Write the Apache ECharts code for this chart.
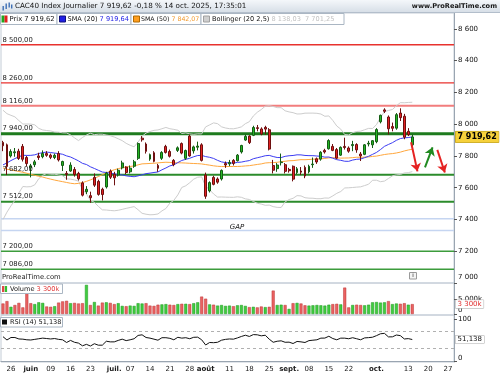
<!DOCTYPE html>
<html>
<head>
<meta charset="utf-8">
<title>CAC40 Index Journalier</title>
<script src="https://cdn.jsdelivr.net/npm/echarts@6.0.0/dist/echarts.min.js"></script>
<style>
html,body{margin:0;padding:0;background:#fff;}
#chart{width:500px;height:375px;}
</style>
</head>
<body>
<div id="chart"></div>
<script>
// ================= DATA =================
const dates = ['05-22','05-23','05-26','05-27','05-28','05-29','05-30',
'06-02','06-03','06-04','06-05','06-06','06-09','06-10','06-11','06-12','06-13',
'06-16','06-17','06-18','06-19','06-20','06-23','06-24','06-25','06-26','06-27',
'06-30','07-01','07-02','07-03','07-04','07-07','07-08','07-09','07-10','07-11',
'07-14','07-15','07-16','07-17','07-18','07-21','07-22','07-23','07-24','07-25',
'07-28','07-29','07-30','07-31','08-01','08-04','08-05','08-06','08-07','08-08',
'08-11','08-12','08-13','08-14','08-15','08-18','08-19','08-20','08-21','08-22',
'08-25','08-26','08-27','08-28','08-29','09-01','09-02','09-03','09-04','09-05',
'09-08','09-09','09-10','09-11','09-12','09-15','09-16','09-17','09-18','09-19',
'09-22','09-23','09-24','09-25','09-26','09-29','09-30','10-01','10-02','10-03',
'10-06','10-07','10-08','10-09','10-10','10-13','10-14'];
const futureDates = ['10-15','10-16','10-17','10-20','10-21','10-22','10-23','10-24','10-27','10-28'];

const openP = [7885,7870,7800,7820,7830,7860,7790,7725,7745,7800,
7795,7815,7805,7790,7815,7740,7690,7705,7715,7690,
7630,7575,7550,7665,7640,7590,7605,7705,7685,7680,
7725,7730,7700,7735,7785,7912,7875,7780,7820,7740,
7785,7860,7828,7772,7835,7878,7785,7925,7832,7855,
7870,7680,7580,7665,7655,7655,7752,7750,7772,7770,
7825,7900,7925,7930,7978,7970,7980,7965,7740,7720,
7758,7745,7715,7735,7695,7705,7728,7700,7745,7782,
7780,7835,7845,7860,7840,7805,7860,7850,7865,7872,
7812,7810,7875,7870,7890,8015,8090,8045,7985,7975,
8070,8050,7955,7870];
const highP = [7895,7878,7842,7850,7845,7875,7800,7750,7775,7820,
7835,7830,7815,7815,7830,7770,7705,7760,7730,7700,
7640,7610,7575,7690,7650,7600,7700,7715,7700,7720,
7770,7735,7740,7775,7885,7925,7885,7815,7830,7750,
7830,7870,7840,7780,7860,7885,7840,7935,7865,7890,
7880,7695,7640,7675,7665,7715,7765,7775,7780,7812,
7870,7935,7930,7990,7995,7980,7990,7975,7775,7755,
7815,7755,7725,7740,7730,7730,7740,7745,7790,7790,
7830,7845,7905,7875,7850,7860,7915,7860,7895,7880,
7825,7875,7895,7900,7975,8060,8100,8055,8010,8070,
8100,8065,7975,7935];
const lowP = [7830,7680,7790,7795,7775,7765,7735,7665,7730,7775,
7785,7795,7780,7780,7765,7705,7650,7700,7670,7645,
7545,7560,7505,7605,7550,7520,7595,7655,7615,7670,
7715,7685,7690,7725,7775,7890,7815,7770,7760,7700,
7775,7815,7790,7735,7825,7810,7775,7795,7815,7835,
7765,7530,7570,7615,7625,7645,7725,7735,7740,7765,
7815,7895,7875,7925,7955,7930,7935,7835,7690,7700,
7740,7690,7695,7640,7685,7680,7660,7690,7725,7750,
7770,7815,7840,7830,7780,7800,7840,7820,7830,7820,
7768,7805,7860,7850,7880,8005,8070,7935,7955,7965,
8020,7905,7925,7840];
const closeP = [7864,7734,7828,7826,7784,7779,7752,7738,7763,7790,
7815,7804,7791,7804,7775,7765,7684,7742,7683,7656,
7553,7590,7537,7616,7558,7557,7692,7666,7662,7710,
7756,7696,7723,7763,7878,7902,7829,7808,7766,7722,
7822,7822,7798,7745,7851,7818,7834,7800,7857,7862,
7772,7546,7632,7621,7635,7709,7743,7759,7753,7805,
7866,7923,7884,7979,7973,7938,7969,7843,7710,7743,
7762,7703,7707,7654,7719,7698,7674,7735,7749,7762,
7823,7825,7897,7835,7786,7854,7853,7830,7872,7838,
7800,7870,7880,7896,7966,8056,8081,7971,7974,8060,
8041,7918,7934,7919.62];
const prevClose = 7910;

const sma20 = [7743.6,7756.2,7770.8,7783.4,7794.9,7804.2,7803.3,7803.7,7807.0,7815.2,
7821.3,7824.3,7821.4,7817.9,7814.9,7810.5,7800.4,7793.3,7781.6,7768.9,
7753.3,7746.1,7731.6,7721.1,7709.8,7698.7,7695.7,7692.1,7687.0,7683.0,
7680.1,7674.7,7671.3,7669.2,7674.4,7681.2,7688.5,7691.8,7695.9,7699.2,
7712.7,7724.3,7737.3,7743.8,7758.4,7771.5,7778.6,7785.3,7795.0,7802.6,
7803.4,7795.9,7791.4,7784.3,7772.1,7762.5,7758.2,7755.7,7755.1,7759.2,
7761.4,7766.5,7770.8,7782.5,7788.6,7794.6,7801.3,7803.5,7796.1,7790.2,
7789.7,7797.5,7801.3,7802.9,7807.1,7806.6,7803.1,7801.9,7801.7,7799.6,
7797.4,7792.5,7793.2,7786.0,7776.6,7772.4,7766.6,7766.0,7774.1,7778.8,
7780.7,7789.1,7797.7,7809.8,7822.2,7840.1,7860.4,7872.2,7883.5,7898.4,
7909.3,7913.9,7915.8,7919.6];
const sma50 = [7725,7716,7712,7707,7702,7697,7691,7684,7678,7672,
7667,7660,7654,7648,7643,7638,7633,7628,7625,7627,
7632,7640,7649,7660,7670,7682,7694,7704,7713,7720,
7725.6,7729.9,7733.6,7737.4,7743.9,7750.1,7751.3,7752.8,7754.2,7756.1,
7758.7,7760.3,7759.2,7756.7,7757.0,7756.3,7755.2,7753.6,7752.4,7751.4,
7749.6,7745.8,7741.9,7737.8,7734.8,7733.4,7733.2,7733.6,7733.4,7733.7,
7734.8,7737.1,7739.0,7742.5,7746.5,7749.9,7755.6,7757.6,7758.2,7759.9,
7764.1,7766.4,7769.8,7770.5,7773.7,7776.6,7776.2,7777.6,7779.3,7780.4,
7781.7,7784.3,7787.8,7789.2,7787.4,7786.4,7786.9,7787.3,7789.4,7791.8,
7791.3,7792.3,7793.9,7796.9,7799.2,7804.0,7808.9,7812.4,7814.7,7818.7,
7824.0,7831.5,7837.5,7842.1];
const bollUpper = [8087.7,8066.2,8055.8,8046.1,8022.6,8000.8,8001.1,8000.6,7995.8,7973.6,
7963.6,7959.9,7957.3,7950.8,7949.3,7945.6,7944.7,7932.6,7914.1,7896.7,
7916.2,7931.7,7943.0,7934.1,7937.0,7936.7,7931.7,7927.4,7919.2,7908.1,
7896.5,7879.4,7867.1,7857.5,7887.5,7923.6,7943.9,7953.9,7961.1,7963.8,
7971.3,7979.4,7971.3,7967.2,7961.9,7941.1,7945.0,7938.9,7936.0,7939.2,
7938.6,7983.0,7995.4,8008.1,8003.2,7983.4,7975.9,7971.6,7970.9,7975.8,
7983.2,8003.2,8015.6,8051.6,8075.1,8092.2,8113.3,8116.2,8111.3,8104.2,
8103.9,8084.2,8077.1,8072.5,8064.0,8064.8,8069.3,8069.6,8069.7,8068.4,
8063.9,8049.8,8051.9,8023.5,7988.6,7968.7,7934.8,7932.4,7946.8,7954.0,
7955.9,7964.8,7973.5,7972.7,7997.2,8042.3,8079.1,8086.4,8092.3,8115.9,
8135.5,8134.9,8136.8,8138.0];
const bollLower = [7399.4,7446.1,7485.7,7520.7,7567.1,7607.5,7605.4,7606.8,7618.2,7656.8,
7678.9,7688.7,7685.4,7685.0,7680.4,7675.3,7656.0,7653.9,7649.0,7641.1,
7590.4,7560.5,7520.2,7508.0,7482.5,7460.6,7459.5,7456.7,7454.8,7457.9,
7463.6,7469.9,7475.4,7480.9,7461.2,7438.8,7433.0,7429.5,7430.7,7434.6,
7454.0,7469.1,7503.3,7520.3,7554.9,7601.8,7612.1,7631.6,7654.0,7666.0,
7668.2,7608.8,7587.3,7560.4,7541.0,7541.5,7540.4,7539.8,7539.2,7542.6,
7539.6,7529.7,7525.9,7513.3,7502.0,7496.9,7489.3,7490.7,7480.9,7476.1,
7475.4,7510.8,7525.4,7533.3,7550.2,7548.3,7536.9,7534.2,7533.7,7530.7,
7530.9,7535.2,7534.4,7548.5,7564.6,7576.1,7598.4,7599.5,7601.3,7603.6,
7605.5,7613.3,7621.9,7646.9,7647.1,7637.8,7641.7,7658.0,7674.7,7680.8,
7683.0,7692.9,7694.7,7701.3];

const volumeK = [3500,4300,2400,3000,3700,2200,6900,3600,3300,3900,
3700,2500,2400,2600,3800,4200,4400,3600,3700,3500,
3600,9700,3000,4000,2800,3800,3900,3700,3300,3600,
2700,2600,2800,2700,3600,3500,3600,2800,2700,3100,
3200,3300,3100,3000,3300,3400,3400,3300,3600,3900,
5800,5100,3200,3100,2800,3000,2700,2800,2600,2900,
3000,2700,2300,2400,2200,2500,2300,2400,7800,3000,
3100,3000,1700,3600,3700,3500,2900,2800,2900,3000,
2900,2800,3100,3300,3400,3200,8800,2200,3000,3100,
3000,2900,3100,3900,4000,3800,3900,4300,3300,3500,
3400,3600,3100,3300];
const rsi14 = [58,50,56,56,52.5,52,50.5,50,51.5,53,
54.5,53.5,52.5,53.5,51.5,50.5,44,49,44.5,42.5,
36,39.5,35.5,41,37.5,37.5,47,45.5,45.5,49,
52,48.5,50.5,53,61,62.5,56,54.5,52,49.5,
55.5,55.5,54,50.5,56.5,54.5,55.5,53,56.5,56.8,
50.5,38,44,43.5,44.5,49.5,51.5,52.5,52,55,
58.5,61.5,58.5,63,62.5,60,61.5,52,44.5,47,
48,44.5,44.8,41.5,46.5,45.5,44,48.5,49.5,50.5,
54.5,54.6,59,53.5,50.5,54.5,54.4,53,55.5,53,
50.5,55,55.7,56.7,60.5,65,66,57.5,57.6,62,
60.5,52.5,53.3,51.138];

const priceTicks = [7000,7200,7400,7600,7800,8000,8200,8400,8600];
const volumeTicks = [0,5000];
const rsiTicks = [0,100];
const rsiBands = [70,30];
const levelValues = [8500,8260,8116,7940,7682,7512,7200,7086];
const gapValues = [7405,7330];
const tickLabels = {'05-26':'26','06-02':'juin','06-09':'09','06-16':'16','06-23':'23',
'07-01':'juil.','07-07':'07','07-14':'14','07-21':'21','07-28':'28','08-01':'août',
'08-11':'11','08-18':'18','08-25':'25','09-01':'sept.','09-08':'08','09-15':'15',
'09-22':'22','10-01':'oct.','10-13':'13','10-20':'20','10-27':'27'};
const monthLabels = ['juin','juil.','août','sept.','oct.'];
const lastClose = 7919.62, changePct = -0.18;
const sma20Last = 7919.64, sma50Last = 7842.07, bollUpLast = 8138.03, bollLowLast = 7701.25;
const volLastK = 3300, rsiLast = 51.138;

// ================= HELPERS =================
function fr(v, d) {
  const neg = v < 0;
  const s = Math.abs(v).toFixed(d);
  let parts = s.split('.');
  let a = parts[0].replace(/\B(?=(\d{3})+(?!\d))/g, ' ');
  return (neg ? '-' : '') + a + (parts.length > 1 ? ',' + parts[1] : '');
}
const FF = 'DejaVu Sans';
const allDates = dates.concat(futureDates);
const nSlots = allDates.length;
const xMin = -0.5, xMax = nSlots - 0.5;
const candleData = dates.map((d, i) => [openP[i], closeP[i], lowP[i], highP[i]]);
const volData = volumeK.map((v, i) => {
  const pc = i === 0 ? prevClose : closeP[i - 1];
  const up = closeP[i] >= pc;
  return {value: v, itemStyle: {color: up ? '#40cc40' : '#ea6262', borderColor: up ? '#1f961f' : '#bb3434', borderWidth: 0.5}};
});
const levelColor = {8500: '#e8322e', 8260: '#e8322e', 8116: '#f27d7d', 7940: '#1e7b1e',
  7682: '#2b8b2b', 7512: '#2b8b2b', 7200: '#3c9c3c', 7086: '#3c9c3c'};
const levelWidth = {8500: 1.3, 8260: 1.3, 8116: 2, 7940: 3, 7682: 2, 7512: 2, 7200: 1.5, 7086: 1.5};

const chart = echarts.init(document.getElementById('chart'), null, {renderer: 'canvas'});

const txt = (x, y, text, extra) => Object.assign({type: 'text', z: 100, x: x, y: y,
  style: Object.assign({text: text, font: '6.6px "' + FF + '"', fill: '#151515', verticalAlign: 'middle'}, (extra || {}))});
const rect = (x, y, w, h, fill, stroke) => ({type: 'rect', z: 100, shape: {x: x, y: y, width: w, height: h},
  style: {fill: fill, stroke: stroke || null, lineWidth: stroke ? 1 : 0}});

const graphics = [
  {type: 'rect', z: 99, shape: {x: 0, y: 0, width: 500, height: 13},
    style: {fill: new echarts.graphic.LinearGradient(0, 0, 0, 1, [{offset: 0, color: '#f4f7fa'}, {offset: 1, color: '#d5dde6'}])}},
  {type: 'line', z: 100, shape: {x1: 0, y1: 12.5, x2: 500, y2: 12.5}, style: {stroke: '#b3becb', lineWidth: 1}},
  rect(2.5, 6, 1.4, 4.5, '#3d6fb5'), rect(5.5, 3.5, 1.4, 5.5, '#3d6fb5'), rect(8.5, 2.5, 1.4, 5, '#3d6fb5'), rect(11, 4.5, 1.4, 4, '#3d6fb5'),
  txt(15, 6.5, 'CAC40 Index Journalier ' + fr(lastClose, 2) + ' ' + fr(changePct, 2) + ' % 14 oct. 2025, 17:35:01', {font: '7.2px "' + FF + '"'}),
  txt(497, 6.5, 'www.ProRealTime.com', {font: 'bold 6.6px "' + FF + '"', align: 'right'}),
  rect(0.5, 13.5, 56.5, 11, '#ffffff', '#aab6c3'),
  rect(1.5, 15.5, 3, 7, '#1fa81f'), rect(4.5, 15.5, 3, 7, '#e02020'),
  txt(9.5, 19.2, 'Prix ' + fr(lastClose, 2), {font: '6.8px "' + FF + '"'}),
  rect(57, 13.5, 74, 11, '#ffffff', '#aab6c3'),
  rect(59.5, 16, 6, 6, '#2020e6', '#10107a'),
  txt(67.5, 19.2, '{a|SMA (20)} {b|' + fr(sma20Last, 2) + '}', {rich: {a: {fill: '#151515'}, b: {fill: '#2424e6'}}}),
  rect(131, 13.5, 70, 11, '#ffffff', '#aab6c3'),
  rect(133.5, 16, 6, 6, '#ff9e1f', '#b06a00'),
  txt(141, 19.2, '{a|SMA (50)} {b|' + fr(sma50Last, 2) + '}', {font: '6.25px "' + FF + '"', rich: {a: {fill: '#151515'}, b: {fill: '#f29a2e'}}}),
  rect(201, 13.5, 143, 11, '#ffffff', '#aab6c3'),
  rect(203.5, 16, 6, 6, '#cfcfcf', '#a0a0a0'),
  txt(212, 19.2, '{a|Bollinger (20 2,5)} {b|' + fr(bollUpLast, 2) + '  ' + fr(bollLowLast, 2) + '}', {rich: {a: {fill: '#151515'}, b: {fill: '#c2c2c2'}}}),
  txt(2, 277.5, 'ProRealTime.com', {fill: '#222', font: '6.8px "' + FF + '"'}),
  rect(409.5, 272.5, 7, 6.5, '#f4f4f4', '#9a9a9a'),
  txt(413, 275.9, 'i', {font: 'bold 6px "' + FF + '"', fill: '#888', align: 'center'}),
  rect(0.5, 284, 62, 9.5, '#ffffff', '#aab6c3'),
  rect(2, 286, 2.3, 6, '#e04848'), rect(4.8, 286, 2.3, 6, '#30c030'),
  txt(10, 289, '{a|Volume} {b|' + fr(volLastK, 0) + 'k}', {rich: {a: {fill: '#151515'}, b: {fill: '#e03a3a'}}}),
  rect(0.5, 317.5, 62, 9.5, '#ffffff', '#aab6c3'),
  rect(2, 319.5, 5, 5, '#111111'),
  txt(10, 322.3, 'RSI (14) ' + fr(rsiLast, 3))
];

// horizontal level lines as two-point line series in data space (value x helper axis)
const levelSeries = levelValues.map(v => ({type: 'line', xAxisIndex: 3, yAxisIndex: 0, z: 1, silent: true,
  symbol: 'none', data: [[xMin, v], [xMax, v]], lineStyle: {color: levelColor[v], width: levelWidth[v]}}))
  .concat(gapValues.map(v => ({type: 'line', xAxisIndex: 3, yAxisIndex: 0, z: 1, silent: true,
  symbol: 'none', data: [[xMin, v], [xMax, v]], lineStyle: {color: '#c5d5f1', width: 1.5}})));

const tagLabel = (text, color, bold, size) => ({show: true, position: 'right', distance: 1, formatter: text,
  color: color, fontSize: size, fontWeight: bold ? 'bold' : 'normal', fontFamily: FF,
  backgroundColor: bold ? '#f6d13b' : '#ffffff', borderColor: bold ? '#a88a10' : '#a5a5a5', borderWidth: 0.5,
  padding: bold ? [2, 2, 1, 2] : [1, 2, 0, 2]});

const priceMarks = levelValues.map(v => ({coord: [xMin, v], label: {show: true, position: 'right', distance: 1, offset: [0, -5],
  formatter: fr(v, 2), color: '#1a1a1a', fontSize: 6.8, fontFamily: FF}}));
priceMarks.push({coord: [58.9, 7354], label: {show: true, position: 'inside', formatter: 'GAP', fontStyle: 'italic',
  fontSize: 7, fontFamily: FF, color: '#111'}});
priceMarks.push({coord: [xMax, lastClose], label: tagLabel(fr(lastClose, 2), '#000', true, 8)});

const arrowStyle = c => ({color: c, width: 2, type: 'solid'});
const arrows = [
  [{coord: [102.7, 7886], lineStyle: arrowStyle('#e52222')}, {coord: [104.3, 7703], lineStyle: arrowStyle('#e52222')}],
  [{coord: [106.2, 7728], lineStyle: arrowStyle('#218a21')}, {coord: [108.1, 7854], lineStyle: arrowStyle('#218a21')}],
  [{coord: [109.3, 7838], lineStyle: arrowStyle('#e52222')}, {coord: [111.2, 7696], lineStyle: arrowStyle('#e52222')}]
];

const invisibleMark = {symbol: 'circle', symbolSize: 1, silent: true, animation: false, itemStyle: {color: 'rgba(0,0,0,0)'}};

const priceFmt = v => {
  if (priceTicks.indexOf(v) < 0) return '';
  const s = fr(v, 0);
  return v === priceTicks[0] ? '{lo|' + s + '}' : s;
};

const option = {
  animation: false,
  backgroundColor: '#ffffff',
  textStyle: {fontFamily: FF},
  graphic: graphics,
  grid: [
    {left: 1, right: 46, top: 13, height: 270, show: true, borderColor: '#c3ccd6', borderWidth: 1},
    {left: 1, right: 46, top: 283, height: 32, show: true, borderColor: '#c3ccd6', borderWidth: 1},
    {left: 1, right: 46, top: 315, height: 47, show: true, borderColor: '#c3ccd6', borderWidth: 1}
  ],
  xAxis: [
    {type: 'category', gridIndex: 0, data: allDates, boundaryGap: true, show: false},
    {type: 'category', gridIndex: 1, data: allDates, boundaryGap: true, show: false},
    {type: 'category', gridIndex: 2, data: allDates, boundaryGap: true,
      axisLine: {show: true, lineStyle: {color: '#9aa5b1'}},
      axisTick: {show: false},
      splitLine: {show: false},
      axisLabel: {
        interval: (idx, val) => tickLabels[val] !== undefined,
        formatter: val => {
          const t = tickLabels[val];
          if (!t) return '';
          return monthLabels.indexOf(t) >= 0 ? '{m|' + t + '}' : t;
        },
        rich: {m: {fontWeight: 'bold', fontSize: 7, fontFamily: FF, color: '#1a1a1a'}},
        fontSize: 7, fontFamily: FF, color: '#1a1a1a', margin: 4
      }},
    {type: 'value', gridIndex: 0, min: xMin, max: xMax, show: false},
    {type: 'value', gridIndex: 1, min: xMin, max: xMax, show: false},
    {type: 'value', gridIndex: 2, min: xMin, max: xMax, show: false}
  ],
  yAxis: [
    {type: 'value', gridIndex: 0, position: 'right', min: 7000, max: 8700, interval: 200,
      splitLine: {show: false},
      axisLine: {show: true, onZero: false, lineStyle: {color: '#9aa5b1'}},
      axisTick: {show: true, length: 3, customValues: priceTicks, lineStyle: {color: '#555'}},
      axisLabel: {customValues: priceTicks, formatter: priceFmt, fontSize: 7, fontFamily: FF, color: '#111', margin: 4,
        rich: {lo: {padding: [0, 0, 12, 0]}}}},
    {type: 'value', gridIndex: 1, position: 'right', min: -333, max: 10333,
      splitLine: {show: false},
      axisLine: {show: true, onZero: false, lineStyle: {color: '#9aa5b1'}},
      axisTick: {show: true, length: 3, customValues: volumeTicks, lineStyle: {color: '#555'}},
      axisLabel: {customValues: volumeTicks, fontSize: 7, fontFamily: FF, color: '#111', margin: 4,
        formatter: v => v === 0 ? '{lo|0}' : (Math.abs(v - 5000) < 1 ? fr(v, 0) + 'k' : ''),
        rich: {lo: {padding: [0, 0, 7, 0]}}}},
    {type: 'value', gridIndex: 2, position: 'right', min: -3, max: 110.2,
      splitLine: {show: false},
      axisLine: {show: true, onZero: false, lineStyle: {color: '#9aa5b1'}},
      axisTick: {show: true, length: 3, customValues: rsiTicks, lineStyle: {color: '#555'}},
      axisLabel: {customValues: rsiTicks, fontSize: 7, fontFamily: FF, color: '#111', margin: 4,
        formatter: v => v === 0 ? '{lo|0}' : (v === 100 ? '100' : ''),
        rich: {lo: {padding: [0, 0, 5, 0]}}}}
  ],
  series: levelSeries.concat([
    {name: 'BollUp', type: 'line', xAxisIndex: 0, yAxisIndex: 0, data: bollUpper, symbol: 'none', silent: true, z: 2,
      lineStyle: {color: '#cdcdcd', width: 1}},
    {name: 'BollLow', type: 'line', xAxisIndex: 0, yAxisIndex: 0, data: bollLower, symbol: 'none', silent: true, z: 2,
      lineStyle: {color: '#cdcdcd', width: 1}},
    {name: 'SMA50', type: 'line', xAxisIndex: 0, yAxisIndex: 0, data: sma50, symbol: 'none', silent: true, z: 2,
      lineStyle: {color: '#ffa73d', width: 1}},
    {name: 'SMA20', type: 'line', xAxisIndex: 0, yAxisIndex: 0, data: sma20, symbol: 'none', silent: true, z: 2,
      lineStyle: {color: '#3c3cf2', width: 1}},
    {name: 'Prix', type: 'candlestick', xAxisIndex: 0, yAxisIndex: 0, data: candleData, barWidth: 2.4, z: 3, silent: true,
      itemStyle: {color: '#24b824', color0: '#e42222', borderColor: '#145c14', borderColor0: '#6e1010', borderWidth: 1}},
    {name: 'annot', type: 'line', xAxisIndex: 3, yAxisIndex: 0, data: [], z: 7, silent: true,
      markLine: {symbol: ['none', 'arrow'], symbolSize: 8, silent: true, animation: false, label: {show: false}, data: arrows},
      markPoint: Object.assign({}, invisibleMark, {data: priceMarks})},
    {name: 'Volume', type: 'bar', xAxisIndex: 1, yAxisIndex: 1, data: volData, barWidth: 3, silent: true},
    {name: 'volAnnot', type: 'line', xAxisIndex: 4, yAxisIndex: 1, data: [], z: 7, silent: true,
      markPoint: Object.assign({}, invisibleMark, {data: [{coord: [xMax, volLastK], label: tagLabel(fr(volLastK, 0) + 'k', '#e03030', false, 7)}]})},
    {name: 'RSI', type: 'line', xAxisIndex: 2, yAxisIndex: 2, data: rsi14, symbol: 'none', silent: true,
      lineStyle: {color: '#111111', width: 1},
      markLine: {symbol: ['none', 'none'], silent: true, animation: false, label: {show: false},
        data: rsiBands.map(v => ({yAxis: v, lineStyle: {color: '#b0b0b0', width: 1, type: [3, 3]}}))}},
    {name: 'rsiAnnot', type: 'line', xAxisIndex: 5, yAxisIndex: 2, data: [], z: 7, silent: true,
      markPoint: Object.assign({}, invisibleMark, {data: [{coord: [xMax, rsiLast], label: tagLabel(fr(rsiLast, 3), '#111', false, 7)}]})}
  ])
};
chart.setOption(option);
</script>
</body>
</html>
